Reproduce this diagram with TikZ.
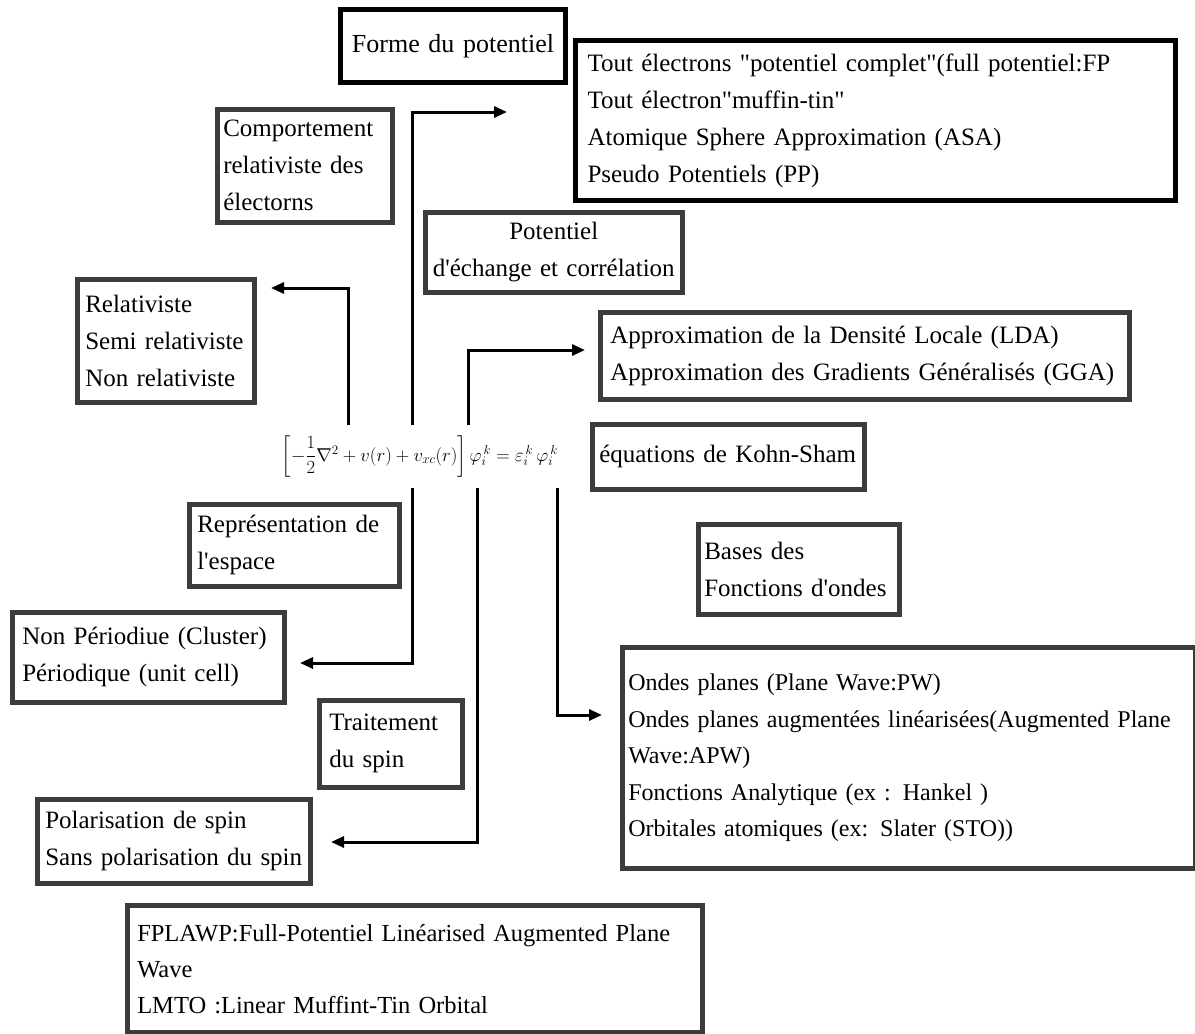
\documentclass[tikz,border=0pt]{standalone}
\usepackage{fix-cm}
\usepackage{amsmath}
\usepackage{fontspec}
\setmainfont{Liberation Serif}[WordSpace=0.7]
\usetikzlibrary{arrows.meta}
\definecolor{boxgray}{HTML}{3C3C3C}
\newcommand{\qd}{\textquotedbl}
\newcommand{\ap}{\textquotesingle}
\tikzset{box/.style={draw=boxgray,line width=4.5pt,anchor=north west,align=left,
		inner xsep=8pt,inner ysep=0pt,font=\fontsize{25}{37}\selectfont},
	darkbox/.style={box,draw=black,line width=5pt},
	arr/.style={line width=3pt,-{Triangle[length=13pt,width=11pt]}},
	eq/.style={inner sep=0pt,minimum height=63pt,font=\fontsize{18.6}{22}\selectfont}}

\begin{document}
\begin{tikzpicture}[x=1pt,y=-1pt]
\useasboundingbox (0,0) rectangle (1195,1034);
\node [darkbox,align=center,inner xsep=0pt,text width=225pt,minimum height=73pt,
  font=\fontsize{26}{37}\selectfont] (forme) at (338,7) {Forme du potentiel};
\node [darkbox,inner xsep=12pt,text width=576pt,minimum height=160pt] (tout) at (573,38)
  {Tout électrons \qd potentiel complet\qd(full potentiel:FP\\ Tout électron\qd muffin-tin\qd\\
   Atomique Sphere Approximation (ASA)\\ Pseudo Potentiels (PP)};
\node [box,inner xsep=6pt,text width=163pt,minimum height=113pt] (comp) at (215,107)
  {Comportement\\ relativiste des\\ électorns};
\node [box,align=center,inner xsep=4pt,text width=249pt,minimum height=80pt] (xc) at (423,210)
  {Potentiel\\ d\ap échange et corrélation};
\node [box,text width=161pt,minimum height=123pt] (rel) at (75,277)
  {Relativiste\\ Semi relativiste\\ Non relativiste};
\node [box,inner xsep=10pt,text width=509pt,minimum height=87pt] (lda) at (598,310)
  {Approximation de la Densité Locale (LDA)\\ Approximation des Gradients Généralisés (GGA)};
\node [eq] (ks) at (420,456.5)
  {$\left[-\dfrac{1}{2}\nabla^{2}+v(r)+v_{xc}(r)\right]\varphi_{i}^{\,k}=\varepsilon_{i}^{\,k}\,\varphi_{i}^{\,k}$};
\node [box,inner xsep=7pt,text width=258pt,minimum height=65pt] (kohn) at (590,422)
  {équations de Kohn-Sham};
\node [box,inner xsep=6pt,text width=189pt,minimum height=90pt] (bases) at (696,522)
  {Bases des\\ Fonctions d\ap ondes};
\node [box,text width=194pt,minimum height=82pt] (rep) at (187,502)
  {Représentation de\\ l\ap espace};
\node [box,inner xsep=10pt,text width=252pt,minimum height=90pt] (per) at (10,610)
  {Non Périodiue (Cluster)\\ Périodique (unit cell)};
\node [box,inner xsep=10pt,text width=123pt,minimum height=87pt] (trait) at (317,698)
  {Traitement\\ du spin};
\node [box,text width=257pt,minimum height=84pt] (pol) at (35,797)
  {Polarisation de spin\\ Sans polarisation du spin};
\node [box,inner xsep=6pt,text width=561pt,minimum height=221pt,font=\fontsize{24}{36.5}\selectfont] (ondes) at (620,645)
  {Ondes planes (Plane Wave:PW)\\ Ondes planes augmentées linéarisées(Augmented Plane\\ Wave:APW)\\
   Fonctions Analytique (ex : Hankel )\\ Orbitales atomiques (ex: Slater (STO))};
\node [box,inner xsep=10pt,text width=555pt,minimum height=127pt,font=\fontsize{24.5}{36}\selectfont] (fpl) at (125,903)
  {FPLAWP:Full-Potentiel Linéarised Augmented Plane\\ Wave\\ LMTO :Linear Muffint-Tin Orbital};

\coordinate (relTip) at (271,288);
\coordinate (formeTip) at (507,112);
\coordinate (ldaTip) at (585,350);
\coordinate (perTip) at (300,663);
\coordinate (spinTip) at (331,842);
\coordinate (basTip) at (602,715);

\draw [arr] ([xshift=-72pt]ks.north) |- (relTip);
\draw [arr] ([xshift=-8pt]ks.north) |- (formeTip);
\draw [arr] ([xshift=48pt]ks.north) |- (ldaTip);
\draw [arr] ([xshift=-8pt]ks.south) |- (perTip);
\draw [arr] ([xshift=57pt]ks.south) |- (spinTip);
\draw [arr] ([xshift=137pt]ks.south) |- (basTip);
\end{tikzpicture}
\end{document}
